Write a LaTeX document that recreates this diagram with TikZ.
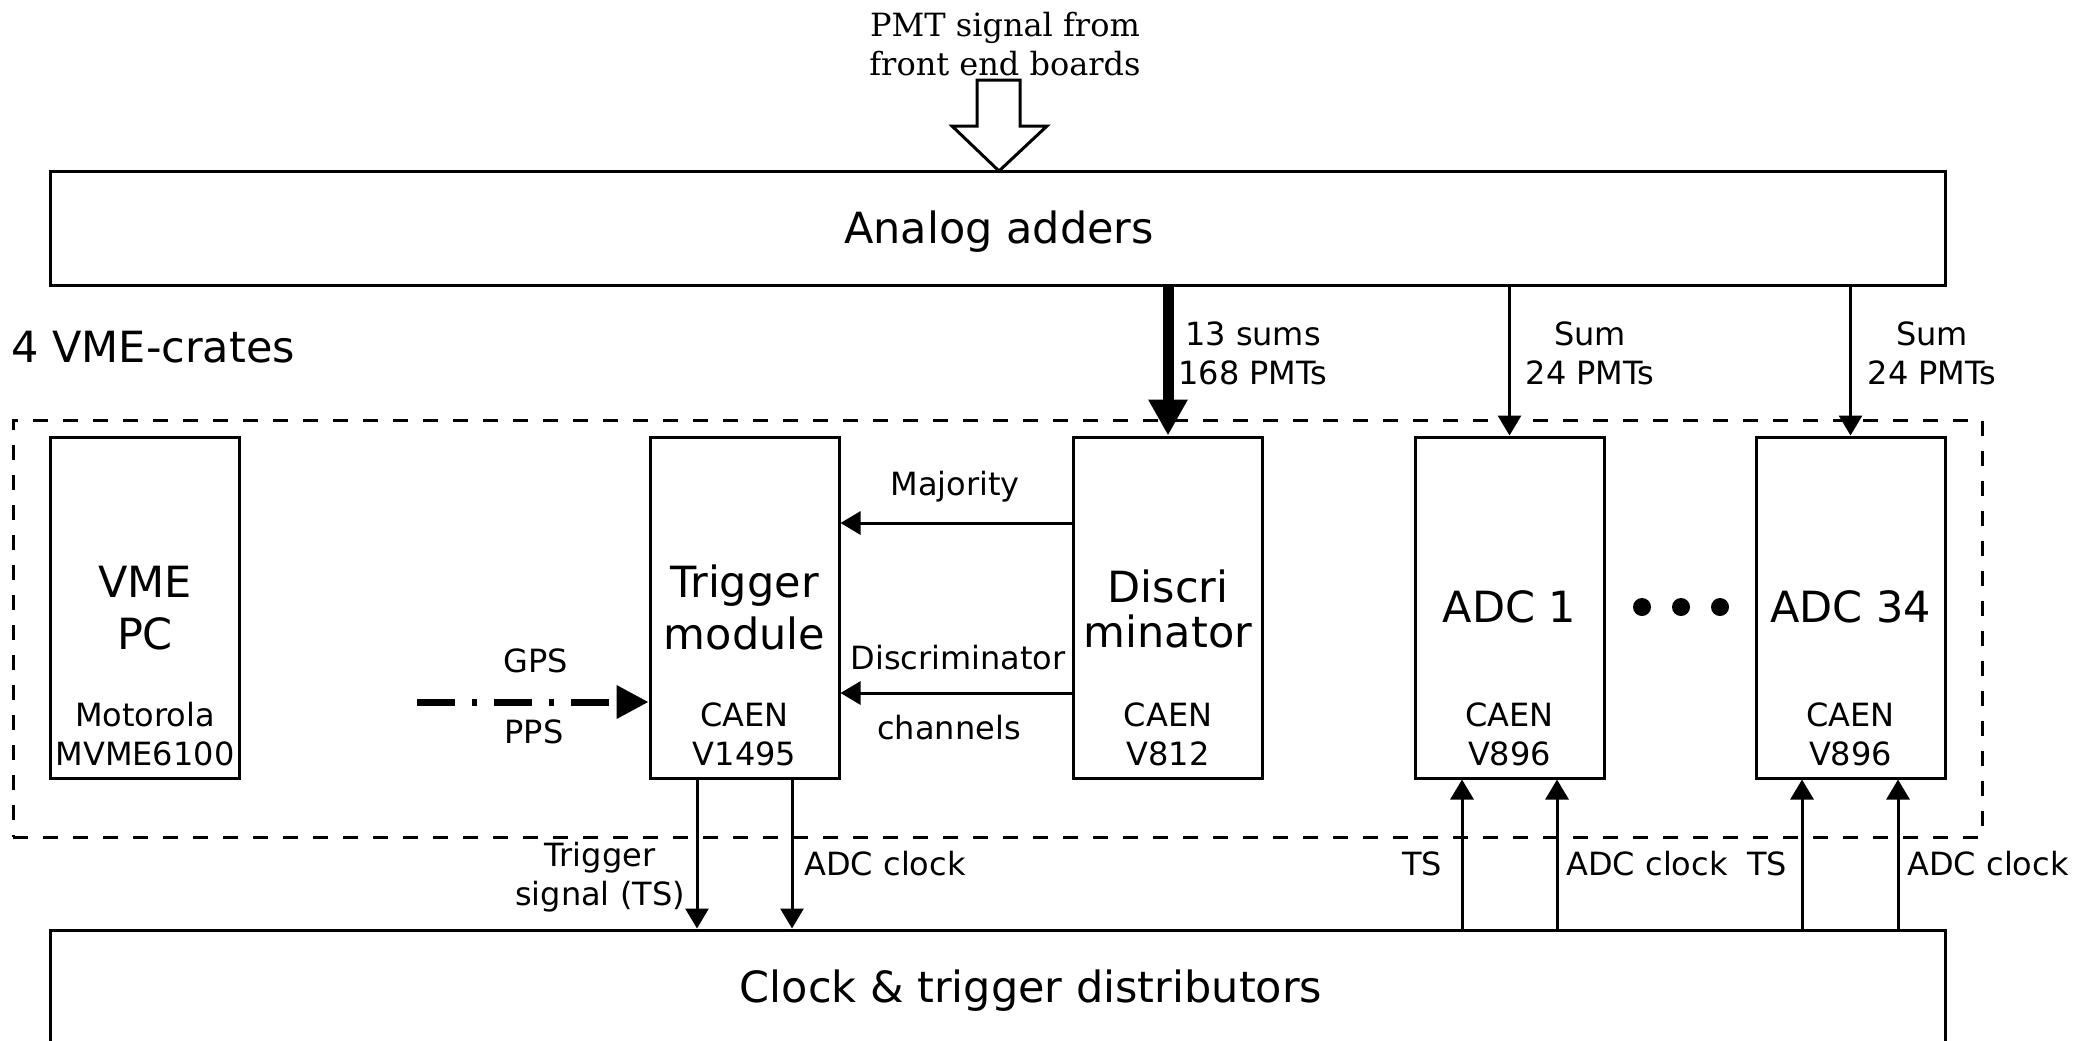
\documentclass[tikz,border=0pt]{standalone}
\usepackage{fontspec}
\setmainfont{DejaVu Sans}
\newfontfamily\pmtserif{DejaVu Serif}
\usetikzlibrary{arrows.meta,calc}
\begin{document}
\begin{tikzpicture}[x=0.5pt,y=-0.5pt,
  box/.style={draw,line width=1.5pt,inner sep=0pt},
  module/.style={box,minimum width=94.5pt,minimum height=170.5pt},
  wide/.style={box,minimum width=947.5pt},
  big/.style={align=center,inner sep=0pt,font=\fontsize{21.5}{26}\selectfont},
  small/.style={align=center,inner sep=0pt,font=\fontsize{16}{19.5}\selectfont},
  arr/.style={line width=1.5pt,-{Triangle[length=10pt,width=11.5pt]}},
  thickarr/.style={line width=5.5pt,-{Triangle[length=18pt,width=18.5pt]}},
  gpsarr/.style={line width=3.5pt,dash pattern=on 19pt off 8.5pt on 2.5pt off 8.5pt,-{Triangle[length=16pt,width=16pt]}},
  crate/.style={draw,line width=1.5pt,dash pattern=on 7.5pt off 7.5pt,inner sep=0pt,minimum width=984.5pt,minimum height=208.5pt}
]
\useasboundingbox (0,0) rectangle (2075,1040);
\clip (0,0) rectangle (2075,1040);

% main boxes
\node[wide,minimum height=57pt] (adders) at (997.5,228) {};
\node[big] (adderstext) at (999,232) {Analog adders};
\node[wide,minimum height=58pt] (clock) at (997.5,988) {};
\node[big] (clocktext) at (1031,991) {Clock \& trigger distributors};

% crate
\node[crate] (crate) at (997.5,628.5) {};
\node[big,anchor=west] (cratelabel) at (11,347) {4 VME-crates};

% modules
\node[module] (vme)  at (145,607.5) {};
\node[module] (trig) at (744.5,607.5) {};
\node[module] (disc) at (1168,607.5) {};
\node[module] (adc1) at (1509.5,607.5) {};
\node[module] (adc34) at (1850.5,607.5) {};

\node[big] (vmeT) at (145,608) {VME\\PC};
\node[small] (vmeS) at (145,734.5) {Motorola\\MVME6100};
\node[big] (trigT) at (744.5,607) {Trigger\\module};
\node[small] (trigS) at (744.5,734.5) {CAEN\\V1495};
\node[big,font=\fontsize{21.5}{22.5}\selectfont] (discT) at (1168,609) {Discri\\minator};
\node[small] (discS) at (1168,734.5) {CAEN\\V812};
\node[big] (adc1T) at (1509.5,607) {ADC 1};
\node[small] (adc1S) at (1509.5,734.5) {CAEN\\V896};
\node[big] (adc34T) at (1850.5,607) {ADC 34};
\node[small] (adc34S) at (1850.5,734.5) {CAEN\\V896};

% dots
\fill (1642,607) circle[radius=4.5pt];
\fill (1681,607) circle[radius=4.5pt];
\fill (1720,607) circle[radius=4.5pt];

% PMT input
\node[align=center,inner sep=0pt,font=\pmtserif\fontsize{16}{19.5}\selectfont] (pmt) at (1005,44) {PMT signal from\\front end boards};
\coordinate (pmttip) at (999,171);
\draw[line width=1.5pt,fill=white,line join=miter] (977,80) -- (1020,80) -- (1020,126) -- (1047,126) -- (pmttip) -- (952,126) -- (977,126) -- cycle;

% thick arrow
\draw[thickarr] (disc.north |- adders.south) -- (disc.north);
\node[small] (sums) at (1253,353) {13 sums\\168 PMTs};

% sum arrows
\draw[arr] (adc1.north |- adders.south) -- (adc1.north);
\node[small] (sum1) at (1590,353) {Sum\\24 PMTs};
\draw[arr] (adc34.north |- adders.south) -- (adc34.north);
\node[small] (sum2) at (1932,353) {Sum\\24 PMTs};

% discriminator -> trigger
\draw[arr] (disc.west |- 0,523) -- (trig.east |- 0,523);
\node[small] (maj) at (955,487) {Majority};
\draw[arr] (disc.west |- 0,693) -- (trig.east |- 0,693);
\node[small] (dlab1) at (958,658) {Discriminator};
\node[small] (dlab2) at (949,728) {channels};

% GPS
\coordinate (gpsstart) at (417,702);
\draw[gpsarr] (gpsstart) -- (trig.west |- gpsstart);
\node[small] (gps) at (536,661) {GPS};
\node[small] (pps) at (534,732) {PPS};

% trigger -> clock
\coordinate (t1) at ($(trig.south)+(-47.5,0)$);
\coordinate (t2) at ($(trig.south)+(47.5,0)$);
\draw[arr] (t1) -- (t1 |- clock.north);
\draw[arr] (t2) -- (t2 |- clock.north);
\node[small] (tslab) at (600,877) {Trigger\\signal (TS)};
\node[small] (clk0) at (885,864) {ADC clock};

% clock -> ADCs
\coordinate (a1) at ($(adc1.south)+(-47.5,0)$);
\coordinate (a2) at ($(adc1.south)+(47.5,0)$);
\coordinate (b1) at ($(adc34.south)+(-48.5,0)$);
\coordinate (b2) at ($(adc34.south)+(47.5,0)$);
\draw[arr] (a1 |- clock.north) -- (a1);
\draw[arr] (a2 |- clock.north) -- (a2);
\draw[arr] (b1 |- clock.north) -- (b1);
\draw[arr] (b2 |- clock.north) -- (b2);
\node[small] (ts1) at (1422,864) {TS};
\node[small] (clk1) at (1647,864) {ADC clock};
\node[small] (ts2) at (1767,864) {TS};
\node[small] (clk2) at (1988,864) {ADC clock};
\end{tikzpicture}
\end{document}
